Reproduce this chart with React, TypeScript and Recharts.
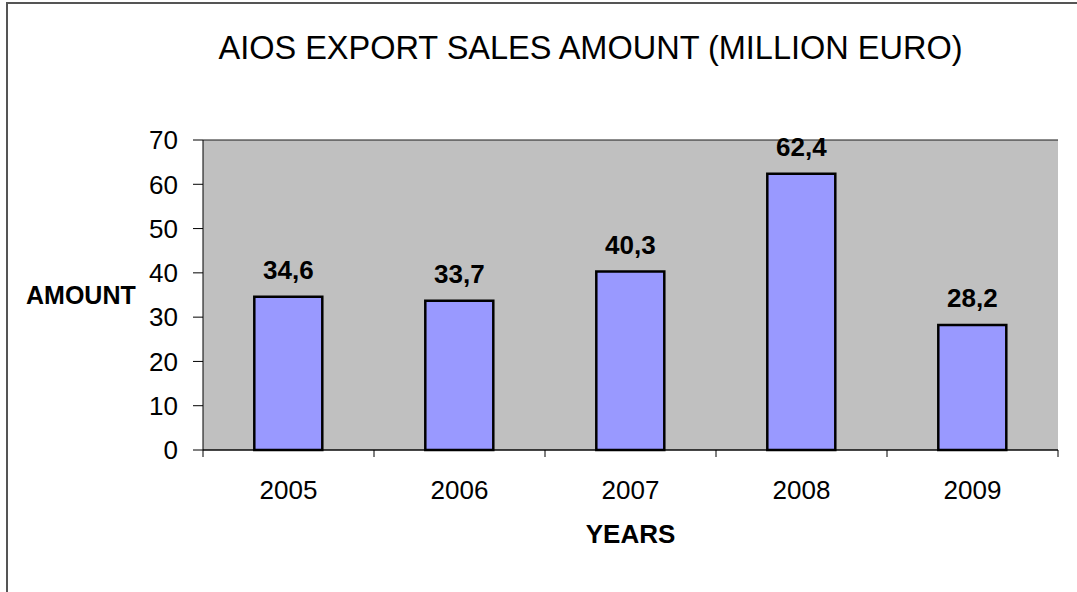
import React from "react";
import {
  BarChart,
  Bar,
  XAxis,
  YAxis,
  CartesianGrid,
  LabelList,
} from "recharts";

const YEARS = ["2005", "2006", "2007", "2008", "2009"];
const AMOUNTS = [34.6, 33.7, 40.3, 62.4, 28.2];
const Y_TICKS = [0, 10, 20, 30, 40, 50, 60, 70];

const data = YEARS.map((year, i) => ({ year, amount: AMOUNTS[i] }));

const W = 1077;
const H = 592;
const MARGIN = { top: 140, right: 19, bottom: 42, left: 13 };
const Y_AXIS_W = 190;
const PLOT_W = W - MARGIN.left - MARGIN.right - Y_AXIS_W;
const HALF_BAND = PLOT_W / YEARS.length / 2;
const FONT = "'Liberation Sans', Arial, sans-serif";

const YearTick = (props: any) => {
  const { x, y, payload, index } = props;
  return (
    <g>
      <line x1={x - HALF_BAND} y1={y} x2={x - HALF_BAND} y2={y + 7} stroke="#000" strokeWidth={1} />
      {index === YEARS.length - 1 && (
        <line x1={x + HALF_BAND} y1={y} x2={x + HALF_BAND} y2={y + 7} stroke="#000" strokeWidth={1} />
      )}
      <text x={x} y={y + 49} textAnchor="middle" fontSize={26} fontFamily={FONT} fill="#000">
        {payload.value}
      </text>
    </g>
  );
};

const fmt = (v: any) => String(v).replace(".", ",");

export default function App() {
  return (
    <div style={{ position: "absolute", left: 0, top: 0, width: W, height: H, overflow: "hidden", background: "#fff" }}>
      <div
        style={{
          position: "absolute",
          left: 6,
          top: 2,
          width: W + 40,
          height: H + 40,
          border: "2px solid #555",
          boxSizing: "border-box",
        }}
      />
      <div
        style={{
          position: "absolute",
          left: 0,
          top: 32,
          width: 1181,
          textAlign: "center",
          fontFamily: FONT,
          fontSize: 32.5,
          lineHeight: "32px",
          color: "#000",
          whiteSpace: "nowrap",
        }}
      >
        AIOS EXPORT SALES AMOUNT (MILLION EURO)
      </div>
      <div style={{ position: "absolute", left: 0, top: 0 }}>
        <BarChart width={W} height={H} data={data} margin={MARGIN} barCategoryGap="30%">
          <CartesianGrid fill="#C0C0C0" vertical={false} stroke="#1a1a1a" strokeWidth={1.2} />
          <XAxis
            dataKey="year"
            tickLine={false}
            tickSize={0}
            tickMargin={0}
            axisLine={{ stroke: "#000", strokeWidth: 1 }}
            tick={<YearTick />}
            height={100}
            interval={0}
            label={{
              value: "YEARS",
              position: "insideBottom",
              offset: 7,
              fontSize: 26,
              fontWeight: "bold",
              fontFamily: FONT,
              fill: "#000",
            }}
          />
          <YAxis
            yAxisId="left"
            domain={[0, 70]}
            ticks={Y_TICKS}
            width={Y_AXIS_W}
            tickSize={10}
            tickMargin={15}
            tickLine={{ stroke: "#000" }}
            axisLine={{ stroke: "#000" }}
            tick={{ fontSize: 26, fontFamily: FONT, fill: "#000" }}
            label={{
              value: "AMOUNT",
              position: "insideLeft",
              offset: 13,
              fontSize: 25,
              fontWeight: "bold",
              fontFamily: FONT,
              fill: "#000",
            }}
          />
          <YAxis
            yAxisId="right"
            orientation="right"
            domain={[0, 70]}
            width={0}
            tick={false}
            tickLine={false}
            axisLine={{ stroke: "#808080", strokeWidth: 2 }}
          />
          <Bar
            yAxisId="left"
            dataKey="amount"
            fill="#9999FF"
            stroke="#000"
            strokeWidth={2.5}
            isAnimationActive={false}
          >
            <LabelList
              dataKey="amount"
              position="top"
              offset={18}
              formatter={fmt}
              style={{ fontSize: 26, fontWeight: "bold", fontFamily: FONT, fill: "#000" }}
            />
          </Bar>
        </BarChart>
      </div>
    </div>
  );
}
